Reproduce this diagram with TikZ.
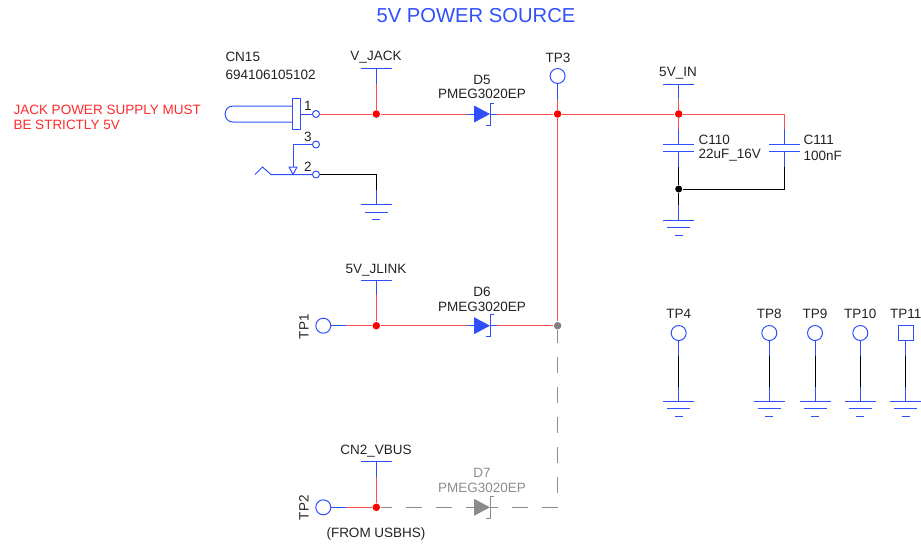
\documentclass[tikz,border=0pt]{standalone}
\usepackage{fontspec}
\setmainfont{Liberation Sans}
\definecolor{symblue}{HTML}{2F4FFF}
\definecolor{wirered}{HTML}{FF4F4F}
\definecolor{notered}{HTML}{FF2A2A}
\definecolor{dimgray}{HTML}{8C8C8C}
\definecolor{labeltext}{HTML}{222222}
\tikzset{
  pics/gndsym/.style={code={
    \draw[symblue] (-15.5,0) -- (15.5,0);
    \draw[symblue] (-11.5,7.5) -- (11.5,7.5);
    \draw[symblue] (-4,15) -- (4,15);
  }},
  pics/netbar/.style={code={
    \draw[symblue] (-15.5,0) -- (15.5,0);
  }},
  pics/capsym/.style={code={
    \draw[symblue] (-15.5,0) -- (15.5,0);
    \draw[symblue] (-15.5,6.5) -- (15.5,6.5);
  }},
  pics/diodesym/.style={code={
    \draw (-15,0) -- (-8,0);
    \draw (8,0) -- (15,0);
    \fill (-8,-8.5) -- (8,0) -- (-8,8.5) -- cycle;
    \draw (11.5,-11) -- (8,-11) -- (8,11) -- (4,11);
  }},
}
\begin{document}
\begin{tikzpicture}[
x=1pt, y=-1pt, line width=1pt,
lbl/.style={text=labeltext, font=\fontsize{13.5}{15}\selectfont, inner sep=0pt, yshift=-0.8pt},
netlbl/.style={lbl, yshift=-0.8pt},
tpnode/.style={circle, draw=symblue, minimum size=15pt, inner sep=0pt},
tpsquare/.style={rectangle, draw=symblue, minimum size=15pt, inner sep=0pt},
pinnode/.style={circle, draw=symblue, minimum size=7pt, inner sep=0pt},
reddot/.style={circle, fill=red, minimum size=7.5pt, inner sep=0pt},
blackdot/.style={circle, fill=black, minimum size=7pt, inner sep=0pt},
graydot/.style={circle, fill=gray, minimum size=7.5pt, inner sep=0pt},
redwire/.style={wirered},
bluewire/.style={symblue},
blackwire/.style={black},
dimwire/.style={dimgray, dash pattern=on 16pt off 14pt},
]
    \useasboundingbox (0,0) rectangle (921,544);

    % title and notes
    \node[text=symblue, font=\fontsize{20.2}{22}\selectfont, inner sep=0pt] (title) at (476,16) {5V POWER SOURCE};
    \node[anchor=west, text=notered, inner sep=0pt, font=\fontsize{13.5}{15}\selectfont] (note1) at (13,109.5) {JACK POWER SUPPLY MUST};
    \node[anchor=west, text=notered, inner sep=0pt, font=\fontsize{13.5}{15}\selectfont] (note2) at (13,125) {BE STRICTLY 5V};

    % connector
    \node[lbl, anchor=west] (cn15) at (225,56) {CN15};
    \node[lbl, anchor=west] (cn15v) at (225,74) {694106105102};
    \node[lbl] (n1) at (308,105) {1};
    \node[lbl] (n3) at (308,136) {3};
    \node[lbl] (n2) at (308,166) {2};
    \node[pinnode] (p1) at (316,114) {};
    \node[pinnode] (p3) at (316,144.5) {};
    \node[pinnode] (p2) at (316,174.5) {};
    \node[rectangle, draw=symblue, minimum width=7.5pt, minimum height=31pt, inner sep=0pt] (plug) at (296.7,113.5) {};
    \coordinate (k3) at (293,144.5);
    \coordinate (tip3) at (293,174.5);
    \coordinate (sw0) at (271,174.5);
    \coordinate (sw1) at (262.5,167);
    \coordinate (sw2) at (255,174.5);
    \draw[bluewire] (plug.west |- 0,106) -- (233,106) .. controls (222.5,106) and (222.5,122) .. (233,122) -- (plug.west |- 0,122);
    \draw[bluewire] (plug.east |- p1) -- (p1);
    \draw[bluewire] (p3) -- (k3) -- (293,167);
    \draw[symblue, fill=white, line join=round] (289,167) -- (297,167) -- (tip3) -- cycle;
    \draw[bluewire] (p2) -- (sw0) -- (sw1) -- (sw2);

    % net names
    \node[netlbl] (vjackl) at (376,56) {V\_JACK};
    \node[lbl] (tp3l) at (558,57) {TP3};
    \node[netlbl] (vinl) at (678,72) {5V\_IN};
    \node[netlbl] (jlinkl) at (376,269) {5V\_JLINK};
    \node[netlbl] (vbusl) at (376,450) {CN2\_VBUS};
    \node[lbl] (usbl) at (376,533) {(FROM USBHS)};
    \node[lbl, rotate=90] (tp1l) at (304,326) {TP1};
    \node[lbl, rotate=90] (tp2l) at (304,507) {TP2};

    \node[lbl] (d5a) at (482,79.5) {D5};
    \node[lbl] (d5b) at (482,93) {PMEG3020EP};
    \node[lbl] (d6a) at (482,291) {D6};
    \node[lbl] (d6b) at (482,306) {PMEG3020EP};
    \node[lbl, text=dimgray] (d7a) at (482,472) {D7};
    \node[lbl, text=dimgray] (d7b) at (482,487) {PMEG3020EP};

    \node[lbl, anchor=west] (c110a) at (698,139) {C110};
    \node[lbl, anchor=west] (c110b) at (698,154.5) {22uF\_16V};
    \node[lbl, anchor=west] (c111a) at (803,139) {C111};
    \node[lbl, anchor=west] (c111b) at (803,155) {100nF};

    % junctions and test points
    \node[reddot] (jjack) at (376.3,114) {};
    \node[reddot] (jtp3) at (557.6,114) {};
    \node[reddot] (jin) at (678.7,114) {};
    \node[reddot] (jlink) at (376.3,325.7) {};
    \node[reddot] (jvbus) at (376.3,507.3) {};
    \node[graydot] (jor) at (557.6,325.7) {};
    \node[blackdot] (jgnd) at (678.7,189) {};
    \node[tpnode] (tp3) at (557.6,76) {};
    \node[tpnode] (tp1) at (323.3,325.7) {};
    \node[tpnode] (tp2) at (323.3,507.3) {};

    % diodes
    \pic[symblue] at (482,114) {diodesym};
    \pic[symblue] at (482,325.7) {diodesym};
    \pic[dimgray] at (482,507.3) {diodesym};
    \coordinate (d5i) at (467,114);
    \coordinate (d5o) at (497,114);
    \coordinate (d6i) at (467,325.7);
    \coordinate (d6o) at (497,325.7);
    \coordinate (d7i) at (467,507.3);
    \coordinate (d7o) at (497,507.3);

    % top row
    \pic at (376.3,68.3) {netbar};
    \coordinate (vjack) at (376.3,68.3);
    \coordinate (vjacks) at (376.3,84);
    \draw[bluewire] (vjack) -- (vjacks);
    \draw[redwire] (vjacks) -- (jjack);
    \draw[redwire] (p1) -- (jjack);
    \draw[redwire] (jjack) -- (d5i);
    \draw[redwire] (d5o) -- (jtp3);
    \coordinate (tp3s) at (557.6,100);
    \draw[bluewire] (tp3) -- (tp3s);
    \draw[redwire] (tp3s) -- (jtp3);
    \draw[redwire] (jtp3) -- (jin);
    \draw[redwire] (jtp3) -- (jor);

    % ground of the jack
    \coordinate (gj) at (376.3,204.5);
    \coordinate (gjs) at (376.3,190);
    \pic at (gj) {gndsym};
    \draw[blackwire] (p2) -- (376.3,174.5) -- (gjs);
    \draw[bluewire] (gjs) -- (gj);

    % capacitors
    \pic at (678.7,84) {netbar};
    \coordinate (vin) at (678.7,84);
    \coordinate (vins) at (678.7,99);
    \draw[bluewire] (vin) -- (vins);
    \draw[redwire] (vins) -- (jin);
    \pic at (678.7,144.5) {capsym};
    \pic at (784.6,144.5) {capsym};
    \coordinate (c110t) at (678.7,144.5);
    \coordinate (c110u) at (678.7,129);
    \coordinate (c110m) at (678.7,151);
    \coordinate (c110l) at (678.7,167);
    \coordinate (c111t) at (784.6,144.5);
    \coordinate (c111u) at (784.6,129);
    \coordinate (c111m) at (784.6,151);
    \coordinate (c111l) at (784.6,167);
    \coordinate (c111k) at (784.6,114);
    \coordinate (c111g) at (784.6,189);
    \draw[redwire] (jin) -- (c111k) -- (c111u);
    \draw[redwire] (jin) -- (c110u);
    \draw[bluewire] (c110u) -- (c110t);
    \draw[bluewire] (c111u) -- (c111t);
    \draw[bluewire] (c110m) -- (c110l);
    \draw[bluewire] (c111m) -- (c111l);
    \draw[blackwire] (c110l) -- (jgnd);
    \draw[blackwire] (c111l) -- (c111g) -- (jgnd);
    \coordinate (gc) at (678.7,220);
    \coordinate (gcs) at (678.7,205);
    \pic at (gc) {gndsym};
    \draw[blackwire] (jgnd) -- (gcs);
    \draw[bluewire] (gcs) -- (gc);

    % jlink row
    \pic at (376.3,280) {netbar};
    \coordinate (jl) at (376.3,280);
    \coordinate (jls) at (376.3,295);
    \draw[bluewire] (jl) -- (jls);
    \draw[redwire] (jls) -- (jlink);
    \coordinate (tp1s) at (346,325.7);
    \draw[bluewire] (tp1) -- (tp1s);
    \draw[redwire] (tp1s) -- (jlink);
    \draw[redwire] (jlink) -- (d6i);
    \draw[redwire] (d6o) -- (jor);

    % usb row
    \pic at (376.3,461.7) {netbar};
    \coordinate (vb) at (376.3,461.7);
    \coordinate (vbs) at (376.3,477);
    \draw[bluewire] (vb) -- (vbs);
    \draw[redwire] (vbs) -- (jvbus);
    \coordinate (tp2s) at (346,507.3);
    \draw[bluewire] (tp2) -- (tp2s);
    \draw[redwire] (tp2s) -- (jvbus);
    \coordinate (dk) at (557.6,507.3);
    \draw[dimwire, dash phase=5pt] (jvbus) -- (d7i);
    \draw[dimwire] (dk) -- (d7o);
    \draw[dimwire, dash phase=3pt] (jor) -- (dk);

    % test points to ground
    \foreach \tpname/\tpx in {tp4/678.7, tp8/769.3, tp9/815, tp10/860.3}{
        \node[tpnode] (\tpname) at (\tpx,333) {};
        \coordinate (\tpname a) at (\tpx,356);
        \coordinate (\tpname b) at (\tpx,387);
        \coordinate (\tpname g) at (\tpx,401);
        \pic at (\tpname g) {gndsym};
        \draw[bluewire] (\tpname) -- (\tpname a);
        \draw[blackwire] (\tpname a) -- (\tpname b);
        \draw[bluewire] (\tpname b) -- (\tpname g);
    }
    \node[tpsquare] (tp11) at (905.7,333) {};
    \coordinate (tp11a) at (905.7,356);
    \coordinate (tp11b) at (905.7,387);
    \coordinate (tp11g) at (905.7,401);
    \pic at (tp11g) {gndsym};
    \draw[bluewire] (tp11) -- (tp11a);
    \draw[blackwire] (tp11a) -- (tp11b);
    \draw[bluewire] (tp11b) -- (tp11g);

    \node[lbl] (tp4l) at (678.7,313) {TP4};
    \node[lbl] (tp8l) at (769.3,313) {TP8};
    \node[lbl] (tp9l) at (815,313) {TP9};
    \node[lbl] (tp10l) at (860.3,313) {TP10};
    \node[lbl] (tp11l) at (905.7,313) {TP11};
\end{tikzpicture}
\end{document}
